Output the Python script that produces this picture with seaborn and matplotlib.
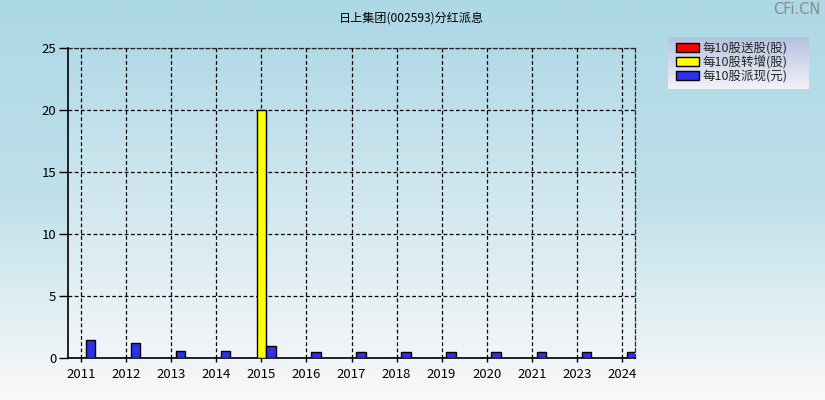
import numpy as np
import pandas as pd
import matplotlib
matplotlib.use("Agg")
import matplotlib.pyplot as plt
import seaborn as sns
from matplotlib.colors import LinearSegmentedColormap

years = ["2011", "2012", "2013", "2014", "2015", "2016", "2017", "2018",
         "2019", "2020", "2021", "2023", "2024"]
song_gu = [0, 0, 0, 0, 0, 0, 0, 0, 0, 0, 0, 0, 0]
zhuan_zeng = [0, 0, 0, 0, 20, 0, 0, 0, 0, 0, 0, 0, 0]
pai_xian = [1.45, 1.2, 0.55, 0.55, 1.0, 0.46, 0.46, 0.46, 0.46, 0.46, 0.46, 0.46, 0.46]
series_names = ["每10股送股(股)", "每10股转增(股)", "每10股派现(元)"]
colors = ["#FF0000", "#FFFF00", "#3030E8"]
title = "日上集团(002593)分红派息"

sns.set_theme(style="white")
plt.rcParams['font.family'] = ['Noto Sans CJK SC', 'DejaVu Sans']

rows = []
for name, vals in zip(series_names, [song_gu, zhuan_zeng, pai_xian]):
    for y, v in zip(years, vals):
        rows.append({"year": y, "type": name, "value": v})
df = pd.DataFrame(rows)

fig = plt.figure(figsize=(8.25, 4), dpi=100)

grad = np.linspace(0, 1, 256).reshape(-1, 1)

# figure background gradient
bg = fig.add_axes([0, 0, 1, 1], zorder=-10)
bg_cmap = LinearSegmentedColormap.from_list(
    "bg", [(0, "#FBF8F8"), (0.25, "#DDEEF3"), (0.5, "#BFE0EA"), (1, "#ADD8E6")])
bg.imshow(grad, aspect="auto", cmap=bg_cmap, origin="lower", extent=[0, 1, 0, 1])
bg.set_axis_off()

# legend background gradient
lg = fig.add_axes([668/825, 1 - 89/400, (809-668)/825, (89-37)/400], zorder=-5)
lg_cmap = LinearSegmentedColormap.from_list("lg", [(0, "#F2F2F8"), (1, "#B4C2E0")])
lg.imshow(grad, aspect="auto", cmap=lg_cmap, origin="lower", extent=[0, 1, 0, 1])
lg.set_axis_off()

ax = fig.add_axes([68/825, 42/400, (635-68)/825, (358-48)/400])
ax.set_facecolor("none")
pa_cmap = LinearSegmentedColormap.from_list("pa", [(0, "#F2F5F8"), (1, "#B2DAE7")])
ax.imshow(grad, aspect="auto", cmap=pa_cmap, origin="lower",
          extent=[-0.29, 12.29, 0, 25], zorder=0)

sns.barplot(data=df, x="year", y="value", hue="type", palette=colors,
            width=0.63, edgecolor="black", linewidth=1, ax=ax, zorder=3,
            legend=True, saturation=1)

ax.set_xlim(-0.29, 12.29)
ax.set_ylim(0, 25)
ax.set_yticks([0, 5, 10, 15, 20, 25])
ax.set_xlabel("")
ax.set_ylabel("")
ax.grid(True, axis="both", color="black", linestyle=(0, (3, 2)), linewidth=0.9, zorder=1)
for line in ax.get_xgridlines() + ax.get_ygridlines():
    line.set_zorder(1)
for s in ["top", "right"]:
    ax.spines[s].set_visible(True)
    ax.spines[s].set_linestyle((0, (3, 2)))
    ax.spines[s].set_linewidth(0.9)
for s in ["left", "bottom"]:
    ax.spines[s].set_linewidth(1.2)
    ax.spines[s].set_color("black")
ax.tick_params(axis="y", direction="out", length=6.5, width=1, color="black",
               labelsize=9.5, pad=2, left=True)
ax.tick_params(axis="x", direction="out", length=3, width=1, color="black",
               labelsize=9.5, pad=4, bottom=True)
for lab in ax.get_xticklabels() + ax.get_yticklabels():
    lab.set_color("black")

handles, labels = ax.get_legend_handles_labels()
ax.legend_.remove()
leg = fig.legend(handles, labels, loc="upper left",
                 bbox_to_anchor=(676/825, 1 - 41.5/400),
                 frameon=False, fontsize=9, handlelength=1.85, handleheight=0.75,
                 labelspacing=0.06, borderpad=0, borderaxespad=0, handletextpad=0.3)

fig.text(411/825, 1 - 18/400, title, ha="center", va="center", fontsize=8.7, color="black")
fig.text(0.995, 1 - 10/400, "CFi.CN", ha="right", va="center", fontsize=10.5,
         color="#8C8C8C", family=["DejaVu Sans"])

fig.savefig("out.png", dpi=100)
